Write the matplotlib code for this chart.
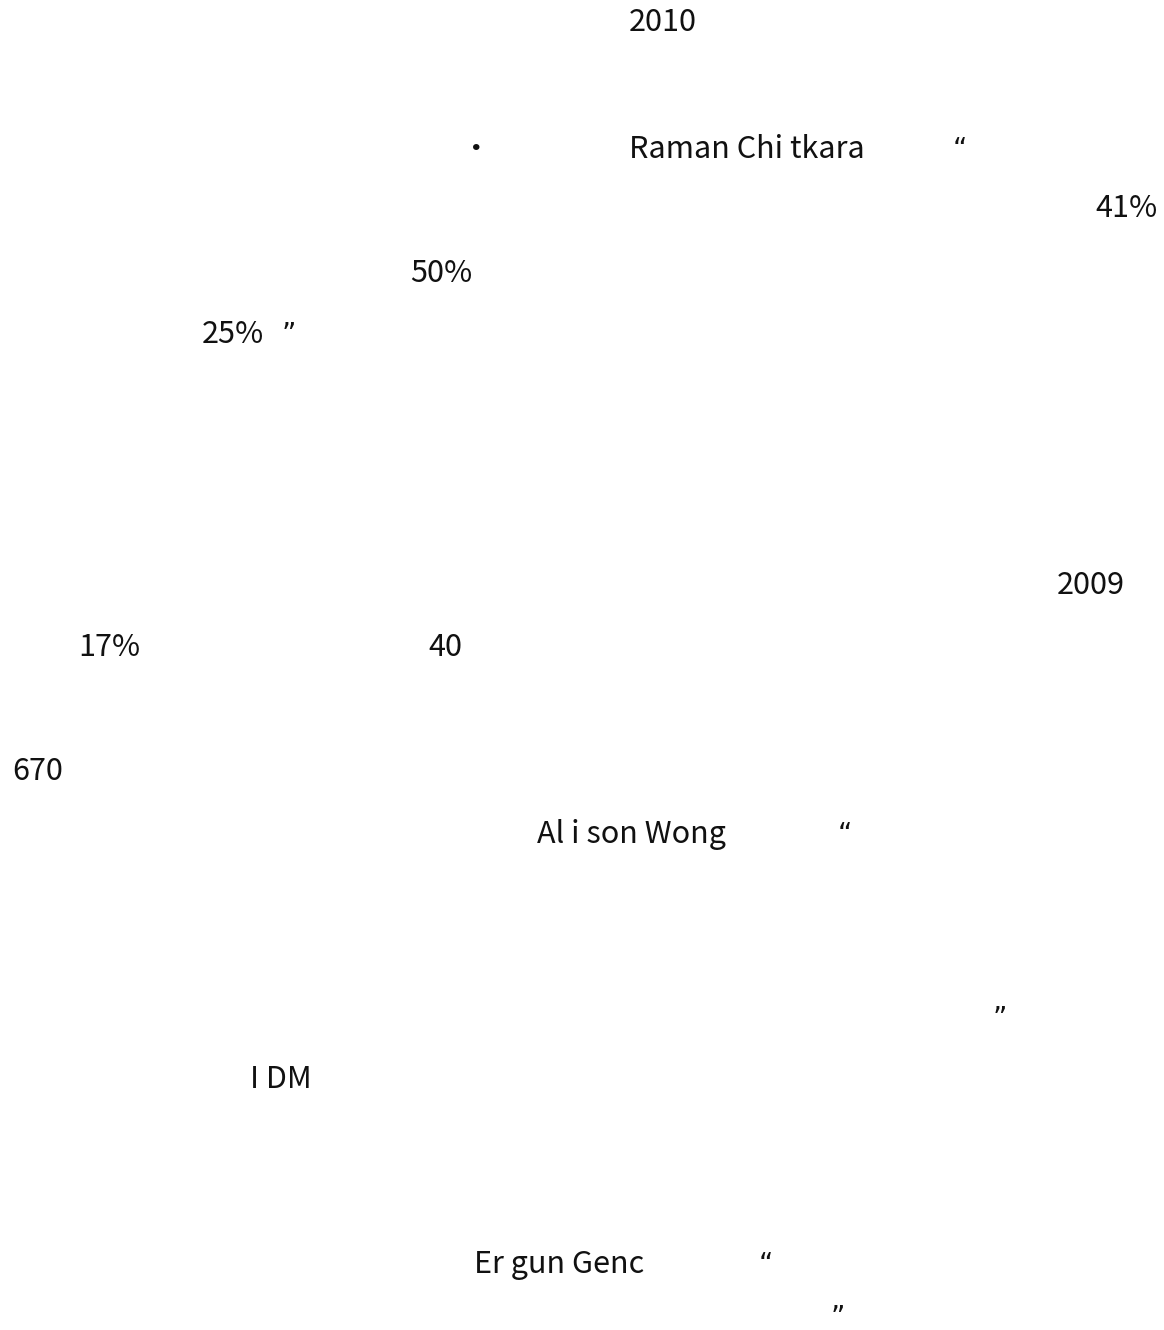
import matplotlib
matplotlib.use("Agg")
import matplotlib.pyplot as plt

# visible text fragments of the page (the CJK text itself is blank in the reference)
labels = ["2010", "·", "Raman Chi tkara", "“",
          "41%", "50%", "25%", "”",
          "2009", "17%", "40", "670",
          "Al i son Wong", "“", "”", "I DM",
          "Er gun Genc", "“", "”"]

# layout: left edge and baseline in page pixels
pos_x = [629, 461, 629, 953,
         1095, 410, 202, 282,
         1057, 78, 428, 12,
         537, 838, 993, 250,
         474, 759, 831]
pos_y = [31, 158, 158, 158,
         217, 282, 343, 343,
         594, 656, 656, 780,
         843, 843, 1027, 1088,
         1273, 1273, 1326]

W, H = 1164, 1330
fig = plt.figure(figsize=(W / 100, H / 100), dpi=100)
ax = fig.add_axes([0, 0, 1, 1])
ax.set_xlim(0, W)
ax.set_ylim(H, 0)
ax.axis("off")

for s, x, y in zip(labels, pos_x, pos_y):
    if s in ("“", "”"):
        ax.text(x, y, s, ha="left", va="baseline", fontsize=20,
                family=["DejaVu Sans"], color="#111111")
    else:
        ax.text(x, y, s, ha="left", va="baseline", fontsize=22,
                family=["Noto Sans CJK SC", "DejaVu Sans"],
                fontweight="light", color="#111111")

fig.savefig("out.png", dpi=100, facecolor="white")
